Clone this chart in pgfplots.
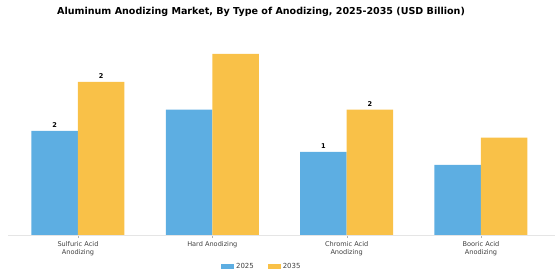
\documentclass[border=0pt]{standalone}
\usepackage{pgfplots}
\pgfplotsset{compat=1.18}
\usepackage{fontspec}
\setmainfont{DejaVu Sans}
\definecolor{cblue}{RGB}{93,174,226}
\definecolor{corange}{RGB}{249,193,72}
\begin{document}
\begin{tikzpicture}
\useasboundingbox (0,0) rectangle (560bp,280bp);
\node[font=\bfseries\fontsize{9.6}{11}\selectfont] at (261bp,268bp) {Aluminum Anodizing Market, By Type of Anodizing, 2025-2035 (USD Billion)};
\begin{axis}[
  at={(8bp,45bp)}, anchor=south west,
  scale only axis, width=547bp, height=190bp,
  xmin=-0.521, xmax=3.551, ymin=0, ymax=2.79,
  ybar=0pt, bar width=46.5bp,
  axis x line*=bottom, axis line style={-, draw=gray!20},
  hide y axis,
  xtick={0,1,2,3},
  xticklabels={{Sulfuric Acid\\Anodizing},{Hard Anodizing},{Chromic Acid\\Anodizing},{Booric Acid\\Anodizing}},
  xticklabel style={align=center, font=\fontsize{6.6}{8.2}\selectfont, text=black!75},
  x tick style={draw=gray!60}, major tick length=3bp, tick align=outside,
  nodes near coords, point meta=explicit symbolic,
  every node near coord/.append style={font=\bfseries\fontsize{6.6}{7}\selectfont, text=black},
  legend style={at={(0.464,-0.168)}, anchor=center, draw=none, legend columns=2,
    font=\fontsize{7}{8}\selectfont, text=black!75,
    /tikz/every even column/.append style={column sep=12bp}},
  legend image code/.code={\fill[#1] (0bp,-2.5bp) rectangle (13bp,2.5bp);},
]
\addplot[fill=cblue, draw=none] coordinates {(0,1.53) [2] (1,1.84) [] (2,1.22) [1] (3,1.03) []};
\addplot[fill=corange, draw=none] coordinates {(0,2.25) [2] (1,2.66) [] (2,1.84) [2] (3,1.43) []};
\legend{2025,2035}
\end{axis}
\end{tikzpicture}
\end{document}
